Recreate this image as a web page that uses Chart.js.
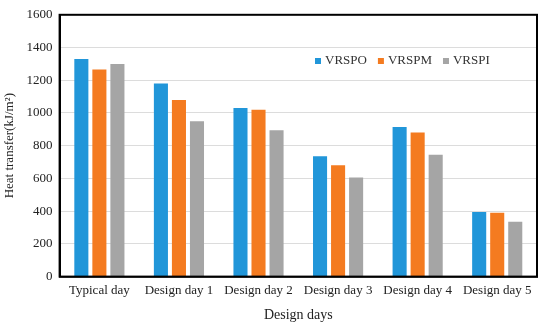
<!DOCTYPE html>
<html>
<head>
<meta charset="utf-8">
<script src="https://cdn.jsdelivr.net/npm/chart.js@4"></script>
<style>
  html, body { margin: 0; padding: 0; background: #fff; }
  #wrap { width: 550px; height: 327px; }
</style>
</head>
<body>
<div id="wrap"><canvas id="c" width="550" height="327"></canvas></div>
<script>
// データ
const categories = ['Typical day', 'Design day 1', 'Design day 2', 'Design day 3', 'Design day 4', 'Design day 5'];
const vrspo = [1330, 1180, 1030, 735, 915, 395];
const vrspm = [1265, 1080, 1020, 680, 880, 390];
const vrspi = [1300, 950, 895, 605, 745, 335];
const yTicks = [0, 200, 400, 600, 800, 1000, 1200, 1400, 1600];

const FONT = '"Liberation Serif", "Times New Roman", serif';

// 枠線と凡例（プロット内）
const framePlugin = {
    id: 'frame',
    afterDraw(chart) {
        const { ctx, chartArea: a } = chart;
        ctx.save();
        ctx.strokeStyle = '#000';
        ctx.lineWidth = 2;
        ctx.strokeRect(a.left, a.top, a.right - a.left, a.bottom - a.top);
        // 凡例
        ctx.font = '13px ' + FONT;
        ctx.textBaseline = 'middle';
        let x = 315;
        const y = 61;
        chart.data.datasets.forEach(ds => {
            ctx.fillStyle = ds.backgroundColor;
            ctx.fillRect(x, y - 3, 6, 6);
            ctx.fillStyle = '#333';
            ctx.fillText(ds.label, x + 10, y);
            x += 10 + ctx.measureText(ds.label).width + 11;
        });
        ctx.restore();
    }
};

new Chart(document.getElementById('c'), {
    type: 'bar',
    data: {
        labels: categories,
        datasets: [
            { label: 'VRSPO', data: vrspo, backgroundColor: '#2196d9' },
            { label: 'VRSPM', data: vrspm, backgroundColor: '#f47b20' },
            { label: 'VRSPI', data: vrspi, backgroundColor: '#a5a5a5' }
        ]
    },
    options: {
        responsive: false,
        animation: false,
        layout: { padding: { top: 9, right: 13, left: 0, bottom: 3 } },
        datasets: { bar: { categoryPercentage: 0.68, barPercentage: 0.78 } },
        plugins: {
            legend: { display: false },
            tooltip: { enabled: false }
        },
        scales: {
            x: {
                grid: { display: false, drawTicks: false },
                border: { color: '#555', width: 2 },
                ticks: { color: '#222', font: { family: FONT, size: 13 }, padding: 6, maxRotation: 0, minRotation: 0, autoSkip: false },
                title: { display: true, text: 'Design days', color: '#222', font: { family: FONT, size: 14 }, padding: { top: 3, bottom: 0 } }
            },
            y: {
                min: 0,
                max: 1600,
                afterBuildTicks: axis => { axis.ticks = yTicks.map(v => ({ value: v })); },
                grid: { color: '#dcdcdc', drawTicks: false },
                border: { color: '#000', width: 2 },
                ticks: { color: '#222', font: { family: FONT, size: 13 }, padding: 7, callback: v => String(v) },
                title: { display: true, text: 'Heat transfer(kJ/m²)', color: '#222', font: { family: FONT, size: 13 }, padding: { top: 2, bottom: 2 } }
            }
        }
    },
    plugins: [framePlugin]
});
</script>
</body>
</html>
